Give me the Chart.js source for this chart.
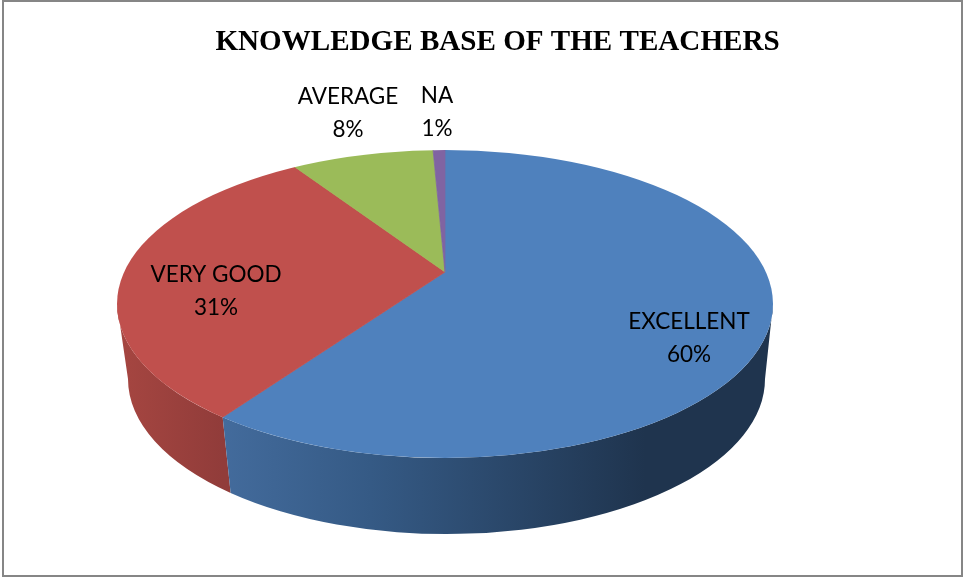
<!DOCTYPE html>
<html>
<head>
<meta charset="utf-8">
<title>Knowledge base of the teachers</title>
<script src="https://cdn.jsdelivr.net/npm/chart.js@4"></script>
<style>
  html, body { margin: 0; padding: 0; background: #fff; }
  canvas { display: block; }
</style>
</head>
<body>
<canvas id="kuchen" width="963" height="577"></canvas>
<script>
// values
const categories = ['EXCELLENT', 'VERY GOOD', 'AVERAGE', 'NA'];
const shares = [59.6, 31.3, 8.4, 0.7];
const colours = ['#4f81bd', '#c0504d', '#9bbb59', '#8064a2'];

// label centres, one per category
const labelX = [689, 216, 348, 437];
const labelY = [322, 275, 97, 96];

// the tilted disc: apex of the slices sits above the centre of the rim
const apex = { x: 445, y: 272 };
const tilt = 0.45;
const rim = { x: 445, y: 304, rx: 328, ry: 154 };
const floor = { x: 446.5, y: 379, rx: 318.5, ry: 155 };

function rimAngle(angle) {
  // where a slice edge leaving the apex hits the rim, as ellipse parameter
  const dx = Math.cos(angle) / rim.rx;
  const dy = Math.sin(angle) * tilt / rim.ry;
  const ox = (apex.x - rim.x) / rim.rx;
  const oy = (apex.y - rim.y) / rim.ry;
  const a = dx * dx + dy * dy;
  const b = 2 * (ox * dx + oy * dy);
  const c = ox * ox + oy * oy - 1;
  const t = (-b + Math.sqrt(b * b - 4 * a * c)) / (2 * a);
  return Math.atan2(oy + dy * t, ox + dx * t);
}

function wall(ctx, from, to, fill) {
  ctx.beginPath();
  ctx.ellipse(rim.x, rim.y, rim.rx, rim.ry, 0, from, to);
  ctx.ellipse(floor.x, floor.y, floor.rx, floor.ry, 0, to, from, true);
  ctx.closePath();
  ctx.fillStyle = fill;
  ctx.fill();
}

function ramp(ctx, x0, x1, stops) {
  const g = ctx.createLinearGradient(x0, 0, x1, 0);
  stops.forEach(s => g.addColorStop(s[0], s[1]));
  return g;
}

const rahmen = {
  id: 'rahmen',
  beforeDraw(chart) {
    const ctx = chart.ctx;
    ctx.save();
    ctx.fillStyle = '#fff';
    ctx.fillRect(0, 0, chart.width, chart.height);
    ctx.strokeStyle = '#868686';
    ctx.lineWidth = 2;
    ctx.strokeRect(3, 1, 959, 575);
    ctx.restore();
  }
};

const scheibe = {
  id: 'scheibe',
  beforeDatasetsDraw(chart) {
    const ctx = chart.ctx;
    const arcs = chart.getDatasetMeta(0).data;
    const edge = rimAngle(arcs[0].endAngle);

    ctx.save();
    wall(ctx, edge, Math.PI, ramp(ctx, rim.x - rim.rx, rim.x - 222, [[0, '#a64641'], [1, '#913c3a']]));
    wall(ctx, 0, edge, ramp(ctx, rim.x - 222, rim.x + 200, [[0, '#436b9c'], [0.35, '#355a85'], [1, '#1f344e']]));

    // the library draws the slices, squeezed and cut to the rim
    ctx.beginPath();
    ctx.ellipse(rim.x, rim.y, rim.rx, rim.ry, 0, 0, Math.PI * 2);
    ctx.clip();
    ctx.translate(apex.x, apex.y);
    ctx.scale(1, tilt);
    ctx.translate(-arcs[0].x, -arcs[0].y);
  },
  afterDatasetsDraw(chart) {
    const ctx = chart.ctx;
    ctx.restore();

    ctx.save();
    ctx.fillStyle = '#000';
    ctx.font = '22.5px Lato';
    ctx.textAlign = 'center';
    ctx.textBaseline = 'middle';
    categories.forEach((name, i) => {
      ctx.fillText(name, labelX[i], labelY[i]);
      ctx.fillText(Math.round(shares[i]) + '%', labelX[i], labelY[i] + 33);
    });
    ctx.restore();
  }
};

new Chart(document.querySelector('#kuchen'), {
  type: 'pie',
  data: {
    labels: categories,
    datasets: [{
      data: shares,
      backgroundColor: colours,
      borderColor: colours,
      borderWidth: 1,
      clip: false
    }]
  },
  options: {
    responsive: false,
    animation: false,
    radius: 450,
    layout: { padding: { left: 32 } },
    plugins: {
      legend: { display: false },
      tooltip: { enabled: false },
      title: {
        display: true,
        text: 'KNOWLEDGE BASE OF THE TEACHERS',
        color: '#000',
        font: { family: 'Liberation Serif', size: 29.1, weight: 'bold' },
        padding: { top: 25, bottom: 10 }
      }
    }
  },
  plugins: [rahmen, scheibe]
});
</script>
</body>
</html>
